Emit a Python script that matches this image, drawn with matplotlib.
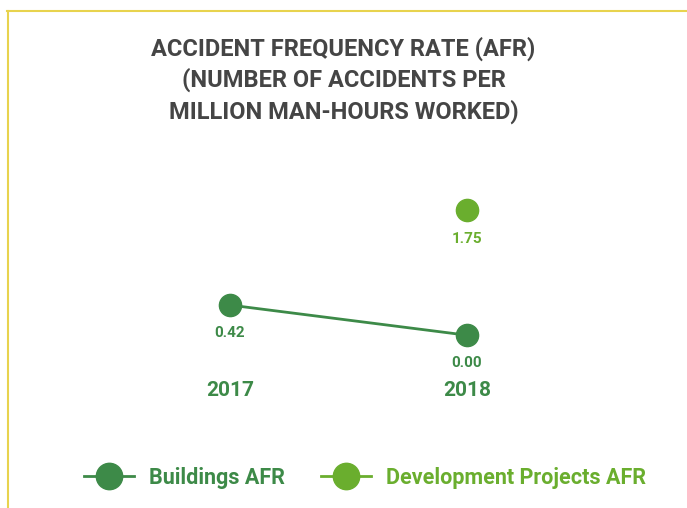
import matplotlib.pyplot as plt
from matplotlib.lines import Line2D

plt.rcParams['font.family'] = ['Roboto', 'DejaVu Sans']

years = ["2017", "2018"]
buildings_afr = [0.42, 0.00]
dev_x = [1]
dev_afr = [1.75]

dark_green = "#3d8a48"
light_green = "#6aae2e"
title_grey = "#454545"
border = "#e8d34e"

W, H = 687, 508
fig = plt.figure(figsize=(W / 100, H / 100), dpi=100)
ax = fig.add_axes([0, 0, 1, 1])
ax.set_xlim(-230 / 237, (W - 230) / 237)
ax.set_ylim((335.2 - H) / 71.72, 335.2 / 71.72)
ax.axis("off")

# border (top and left)
fig.add_artist(Line2D([7 / W, 1], [1 - 11 / H, 1 - 11 / H], color=border, lw=1.5))
fig.add_artist(Line2D([8 / W, 8 / W], [1 - 11 / H, 0], color=border, lw=1.5))

fig.text(0.5, 1 - 80 / H,
         "ACCIDENT FREQUENCY RATE (AFR)\n(NUMBER OF ACCIDENTS PER\nMILLION MAN-HOURS WORKED)",
         ha="center", va="center", fontsize=17, fontweight="bold",
         color=title_grey, linespacing=1.38)

x = list(range(len(years)))
ax.plot(x, buildings_afr, color=dark_green, lw=2, marker="o", ms=16, zorder=3)
ax.plot(dev_x, dev_afr, color=light_green, lw=2, marker="o", ms=16, linestyle="none", zorder=3)

for xi, v in zip(x, buildings_afr):
    ax.annotate(f"{v:.2f}", (xi, v), xytext=(0, -28), textcoords="offset pixels",
                ha="center", va="center", fontsize=11, fontweight="bold", color=dark_green)
for xi, v in zip(dev_x, dev_afr):
    ax.annotate(f"{v:.2f}", (xi, v), xytext=(0, -29), textcoords="offset pixels",
                ha="center", va="center", fontsize=11, fontweight="bold", color=light_green)

for xi, yr in zip(x, years):
    ax.text(xi, 1 - 390 / H, yr, transform=ax.get_xaxis_transform(),
            ha="center", va="center", fontsize=15, fontweight="bold", color=dark_green)

handles = [
    Line2D([], [], color=dark_green, lw=2, marker="o", ms=19, label="Buildings AFR"),
    Line2D([], [], color=light_green, lw=2, marker="o", ms=19, label="Development Projects AFR"),
]
leg = fig.legend(handles=handles, loc="center", bbox_to_anchor=(365 / W, 1 - 478 / H),
                 ncol=2, frameon=False, handlelength=2.33, handletextpad=0.7,
                 columnspacing=1.67, prop={"weight": "bold", "size": 15.5})
for t, c in zip(leg.get_texts(), [dark_green, light_green]):
    t.set_color(c)

fig.savefig("out.png", dpi=100)
